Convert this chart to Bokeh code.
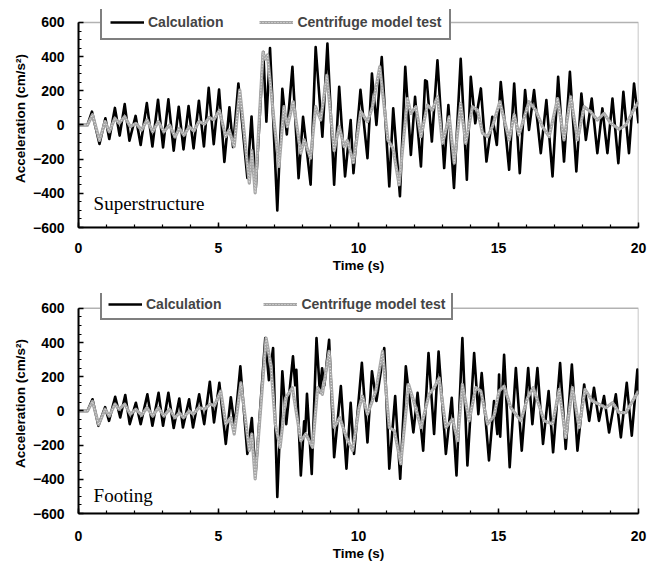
from bokeh.plotting import figure
from bokeh.layouts import column
from bokeh.models import (Range1d, SingleIntervalTicker, Legend, LegendItem, Label,
                          BoxAnnotation)
from bokeh.embed import file_html
from bokeh.resources import INLINE

# ---- Superstructure: calculation (time s, acceleration cm/s^2) ----
sup_calc_t = [0, 0.32, 0.48, 0.75, 0.96, 1.1, 1.3, 1.47, 1.65, 1.82, 2.04, 2.22, 2.44, 2.64,
              2.84, 3.02, 3.21, 3.4, 3.58, 3.75, 3.93, 4.11, 4.3, 4.48, 4.65, 4.83, 5.02, 5.21,
              5.39, 5.52, 5.71, 6.03, 6.18, 6.33, 6.6, 6.71, 6.84, 7.1, 7.28, 7.44, 7.64, 7.86,
              8.02, 8.29, 8.47, 8.71, 8.89, 9.13, 9.31, 9.52, 9.72, 9.82, 10.07, 10.32, 10.48,
              10.64, 10.83, 11.1, 11.24, 11.48, 11.67, 11.87, 12.02, 12.23, 12.38, 12.44, 12.62,
              12.82, 13.06, 13.21, 13.41, 13.65, 13.87, 14.01, 14.17, 14.37, 14.57, 14.78, 14.94,
              15.08, 15.38, 15.56, 15.76, 15.95, 16.09, 16.27, 16.51, 16.71, 16.93, 17.13, 17.34,
              17.55, 17.78, 17.96, 18.12, 18.33, 18.53, 18.71, 18.89, 19.07, 19.28, 19.46, 19.66,
              19.84, 20.0]
sup_calc_a = [0, 0, 78, -111, 39, -82, 100, -62, 122, -92, 53, -117, 128, -126,
              148, -131, 150, -150, 107, -143, 111, -137, 142, -126, 218, -112, 207, -216,
              104, -129, 243, -310, 50, -372, 427, 20, 450, -500, 212, -55, 340, -311,
              48, -349, 456, -68, 476, -349, 223, -301, 29, -282, 206, -194, 301,
              0, 398, -359, 97, -417, 340, -175, 165, -243, 262, 255, -97,
              379, -252, 117, -369, 388, -320, 282, 10, 214, -214, 48, -117,
              252, -262, 243, -282, 204, -29, 204, -165, 146, -301, 282, -214,
              311, -272, 184, -87, 155, -165, 97, -165, 155, -223, 194, -165,
              243, 10]

# ---- Superstructure: centrifuge model test ----
sup_test_t = [0, 0.32, 0.5, 0.75, 0.95, 1.1, 1.3, 1.45, 1.65, 1.85, 2.05, 2.25, 2.45, 2.65,
              2.85, 3.05, 3.25, 3.45, 3.6, 3.77, 3.95, 4.12, 4.3, 4.5, 4.67, 4.83, 5.03, 5.26,
              5.38, 5.56, 5.76, 6.1, 6.19, 6.31, 6.59, 6.67, 6.75, 6.98, 7.16, 7.34, 7.46, 7.67,
              7.94, 8.06, 8.29, 8.47, 8.65, 8.87, 9.13, 9.31, 9.49, 9.6, 9.82, 10.08, 10.32,
              10.5, 10.76, 11.05, 11.23, 11.45, 11.75, 11.87, 12.05, 12.23, 12.46, 12.64, 12.82,
              13.0, 13.24, 13.42, 13.65, 13.83, 14.07, 14.25, 14.43, 14.61, 14.78, 15.05, 15.38,
              15.56, 15.73, 16.09, 16.33, 16.57, 16.81, 17.11, 17.34, 17.58, 17.82, 18.06, 18.29,
              18.53, 18.77, 19.01, 19.31, 19.55, 19.79, 20.0]
sup_test_a = [0, 0, 60, -90, 20, -40, 40, 10, 50, -10, 10, -30, 30, -40,
              20, -40, 0, -70, -20, -60, -10, -35, 20, 5, 45, 30, 85, -68,
              -29, -126, 204, -340, -150, -398, 427, 385, 410, 29, -243, 107, -10, 136,
              -165, -87, -194, 107, 29, 290, -150, -10, -126, -90, -220, 78, 19,
              107, 340, -87, -136, -350, 155, 68, 107, -68, 117, 87, 165,
              -107, 48, -223, 126, -107, 107, 87, -48, -68, -10, 136, -87,
              60, -58, 136, 87, -10, -68, 155, -87, 165, -87, 107, 78,
              29, 68, 10, -25, 0, 78, 136]

# ---- Footing: calculation ----
foot_calc_t = [0, 0.32, 0.5, 0.71, 0.95, 1.09, 1.31, 1.49, 1.67, 1.83, 2.05, 2.22, 2.46, 2.64,
               2.86, 3.02, 3.21, 3.4, 3.6, 3.73, 3.95, 4.09, 4.31, 4.49, 4.69, 4.84, 5.03, 5.26,
               5.44, 5.58, 5.78, 6.03, 6.19, 6.32, 6.67, 6.8, 6.95, 7.1, 7.28, 7.42, 7.66, 7.74,
               7.78, 7.94, 8.06, 8.1, 8.16, 8.33, 8.5, 8.62, 8.7, 8.78, 8.95, 9.13, 9.37, 9.57,
               9.72, 9.84, 10.12, 10.32, 10.48, 10.64, 10.92, 11.1, 11.31, 11.49, 11.69, 11.96,
               12.11, 12.31, 12.5, 12.7, 12.86, 13.12, 13.33, 13.5, 13.71, 13.89, 14.13, 14.28,
               14.4, 14.66, 14.84, 14.96, 15.02, 15.06, 15.2, 15.4, 15.62, 15.83, 16.06, 16.21,
               16.39, 16.59, 16.79, 16.95, 17.2, 17.4, 17.62, 17.82, 18.06, 18.24, 18.41, 18.59,
               18.77, 18.95, 19.19, 19.37, 19.58, 19.76, 19.96, 20.0]
foot_calc_a = [0, 0, 68, -87, 22, -58, 83, -38, 93, -77, 48, -77, 97, -87,
               106, -87, 106, -100, 73, -97, 68, -97, 97, -77, 171, -67, 164, -193,
               80, -90, 261, -251, -42, -375, 426, 180, 368, -503, 232, -77, 319, 150,
               240, -377, -60, -120, 100, -368, 426, 110, 250, 150, 416, -271, 145, -338,
               48, -251, 281, -184, 232, 58, 368, -338, 87, -397, 261, -126,
               106, -232, 338, -135, 348, -251, 77, -377, 426, -319, 338, -19,
               222, -290, 58, -135, 213, -150, 329, -329, 251, -232, 251, -77,
               251, -193, 116, -242, 280, -222, 271, -232, 155, -58, 136, -58,
               87, -126, 97, -155, 164, -145, 242, 97]

# ---- Footing: centrifuge model test ----
foot_test_t = [0, 0.32, 0.5, 0.72, 0.95, 1.1, 1.3, 1.45, 1.65, 1.85, 2.05, 2.25, 2.45, 2.65,
               2.85, 3.05, 3.25, 3.45, 3.6, 3.75, 3.95, 4.1, 4.3, 4.5, 4.7, 4.85, 5.08, 5.26,
               5.44, 5.56, 5.8, 6.1, 6.19, 6.31, 6.7, 6.87, 7.03, 7.2, 7.4, 7.64, 7.94, 8.12,
               8.36, 8.54, 8.71, 8.95, 9.13, 9.33, 9.57, 9.79, 10.02, 10.14, 10.32, 10.62, 10.86,
               11.1, 11.28, 11.51, 11.79, 11.99, 12.23, 12.52, 12.7, 12.88, 13.12, 13.36, 13.54,
               13.71, 13.95, 14.19, 14.37, 14.61, 14.84, 15.02, 15.2, 15.44, 15.8, 16.04, 16.24,
               16.63, 16.93, 17.17, 17.4, 17.64, 17.88, 18.09, 18.35, 18.59, 18.83, 19.07, 19.31,
               19.55, 19.79, 20.0]
foot_test_a = [0, 0, 55, -80, 10, -30, 40, 10, 40, -20, 10, -25, 20, -30,
               20, -30, 10, -40, -10, -40, 0, -20, 20, 10, 40, 30, 116, -77,
               -39, -135, 164, -232, -135, -397, 426, 271, -77, -213, 77, 136, -174, -135,
               -213, 136, 97, 348, -97, -39, -155, -232, 19, 87, -19, 116, 348,
               -97, -116, -309, 155, 48, -97, 97, 136, 193, -97, -48, -174,
               155, -58, 136, 116, -77, -29, 116, 145, 19, -58, 77, 136,
               -58, -77, 126, -155, 136, -97, 126, 58, 39, 19, 48, -10,
               -10, 58, 116]

x_ticks_interval = 5
y_ticks_interval = 200
y_lo, y_hi = -600, 600
t_lo, t_hi = 0, 20
legend_labels = ["Calculation", "Centrifuge model test"]

SANS = "Liberation Sans"
SERIF = "Liberation Serif"


def make_panel(calc_t, calc_a, test_t, test_a, title, height, top, bottom, y_top,
               legend_loc, legend_pad, legend_spacing, label_y, label_standoff):
    # the frame reaches a little above +600 so the legend box can overlap the top border
    p = figure(width=649, height=height, output_backend="svg", toolbar_location=None,
               x_range=Range1d(t_lo, t_hi), y_range=Range1d(y_lo, y_top),
               min_border_left=78, min_border_right=11,
               min_border_top=top, min_border_bottom=bottom)
    p.grid.visible = False
    p.background_fill_color = "white"
    p.border_fill_color = "white"
    p.outline_line_color = None

    # plot border drawn at the axis limits
    p.add_layout(BoxAnnotation(left=t_lo, right=t_hi, bottom=y_lo, top=y_hi,
                               fill_alpha=0, line_color="black", line_width=1.5))

    r_calc = p.line(calc_t, calc_a, line_color="black", line_width=2.6,
                    line_join="round")
    r_test = p.line(test_t, test_a, line_color="#a6a6a6", line_width=3.2,
                    line_join="round")
    r_test_hi = p.line(test_t, test_a, line_color="white", line_width=0.9,
                       line_dash="1 2", line_alpha=0.85, line_join="round")

    xa = p.xaxis[0]
    xa.ticker = SingleIntervalTicker(interval=x_ticks_interval, num_minor_ticks=5)
    xa.axis_label = "Time (s)"
    ya = p.yaxis[0]
    ya.ticker = SingleIntervalTicker(interval=y_ticks_interval, num_minor_ticks=4)
    ya.axis_label = "Acceleration (cm/s²)"
    ya.bounds = (y_lo, y_hi)
    for ax in (xa, ya):
        ax.axis_line_width = 2
        ax.axis_line_color = "black"
        ax.major_tick_in = 5
        ax.major_tick_out = 0
        ax.minor_tick_in = 3
        ax.minor_tick_out = 0
        ax.major_tick_line_width = 1.5
        ax.minor_tick_line_width = 1.2
        ax.major_label_text_font = SANS
        ax.major_label_text_font_style = "bold"
        ax.major_label_text_font_size = "14px"
        ax.major_label_text_color = "black"
        ax.axis_label_text_font = SANS
        ax.axis_label_text_font_style = "bold"
        ax.axis_label_text_font_size = "13.5px"
        ax.axis_label_text_color = "black"
        ax.axis_label_standoff = 2
    xa.major_label_standoff = label_standoff
    ya.major_label_standoff = 14

    legend = Legend(items=[LegendItem(label=legend_labels[0], renderers=[r_calc]),
                           LegendItem(label=legend_labels[1], renderers=[r_test, r_test_hi])],
                    location=legend_loc, orientation="horizontal",
                    label_text_font=SANS, label_text_font_style="bold",
                    label_text_font_size="14px", label_standoff=4,
                    glyph_width=34, glyph_height=14, spacing=legend_spacing,
                    padding=legend_pad, margin=0,
                    border_line_color="black", border_line_width=2,
                    background_fill_color="white", background_fill_alpha=1.0)
    p.add_layout(legend, "center")

    p.add_layout(Label(x=0.54, y=label_y, text=title, text_font=SERIF,
                       text_font_size="19px", text_color="black",
                       text_baseline="alphabetic"))
    return p


top_panel = make_panel(sup_calc_t, sup_calc_a, sup_test_t, sup_test_a, "Superstructure",
                       280, 9, 53, 676, (22, 187), 8, 36, -462, 15)
bottom_panel = make_panel(foot_calc_t, foot_calc_a, foot_test_t, foot_test_a, "Footing",
                          283, 13, 49, 687, (22, 193), 6, 42, -495, 17)

page = column(top_panel, bottom_panel, spacing=0)
open("out.html", "w").write(file_html(page, INLINE))
